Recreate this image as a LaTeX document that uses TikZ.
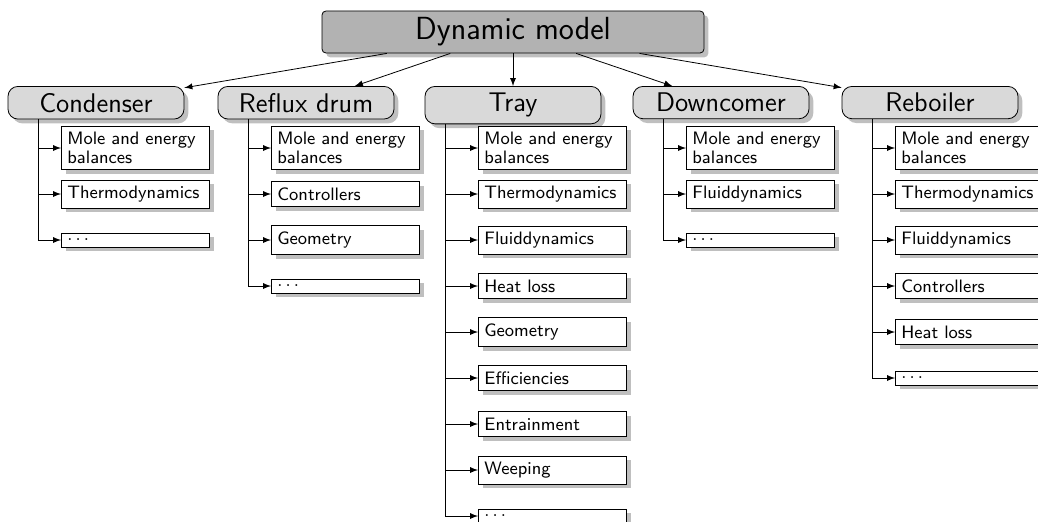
\documentclass[tikz,border=0pt]{standalone}
\usepackage{amsmath}
\usepackage{tikz}
\usetikzlibrary{calc,shadows}

\begin{document}
\begin{tikzpicture}[
	x = 0.5pt, y = -0.5pt,
	>= latex,
	model/.style = {draw, rounded corners = 2pt, fill = gray!60, drop shadow,
		minimum width = 191pt, minimum height = 20pt,
		font = \sffamily\fontsize{16}{19}\selectfont},
	unit/.style = {draw, rounded corners = 5pt, fill = gray!30, drop shadow,
		minimum width = 88pt, minimum height = 15pt, anchor = north,
		font = \sffamily\fontsize{13.5}{16}\selectfont},
	part/.style = {draw, fill = white, drop shadow, anchor = west,
		text width = 68pt, align = left, inner sep = 3pt,
		font = \sffamily\fontsize{9}{9.5}\selectfont}
]
\useasboundingbox (0,0) rectangle (1038,521);
\clip (0,0) rectangle (1038,521);

\node[model] (model) at (513,32) {Dynamic model};

\foreach \name/\cx/\dx/\label/\parts in {
	cond/96/58/Condenser/{{Mole and energy\\balances},Thermodynamics,$\ldots$},
	drum/306/58/Reflux drum/{{Mole and energy\\balances},Controllers,Geometry,$\ldots$},
	tray/513/68/Tray/{{Mole and energy\\balances},Thermodynamics,Fluiddynamics,Heat loss,Geometry,Efficiencies,Entrainment,Weeping,$\ldots$},
	down/721/58/Downcomer/{{Mole and energy\\balances},Fluiddynamics,$\ldots$},
	reb/930/58/Reboiler/{{Mole and energy\\balances},Thermodynamics,Fluiddynamics,Controllers,Heat loss,$\ldots$}%
}{
	\node[unit] (\name) at (\cx,86) {\label};
	\draw[->] (model) -- (\name);
	\coordinate (\name-trunk) at ($(\name.south)+(-\dx,0)$);
	\foreach \part [count=\i] in \parts {
		\node[part] (\name-\i) at (\cx-35,102+46*\i) {\part};
		\draw[->] (\name-trunk) |- (\name-\i.west);
	}
}
\end{tikzpicture}
\end{document}
